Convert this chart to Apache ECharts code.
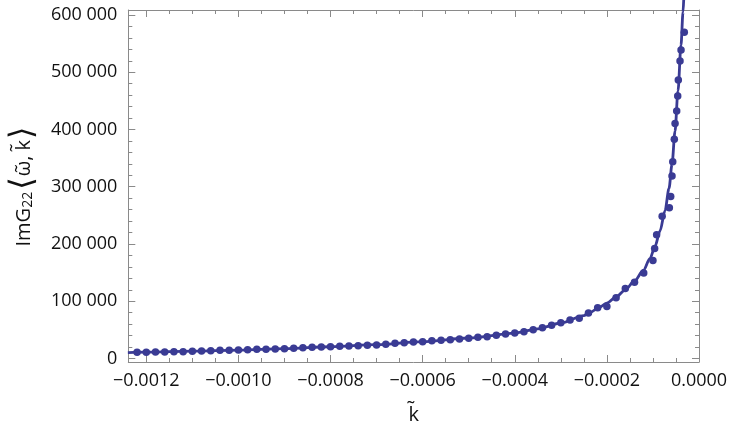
<!DOCTYPE html>
<html>
<head>
<meta charset="utf-8">
<script src="https://cdn.jsdelivr.net/npm/echarts@6.0.0/dist/echarts.min.js"></script>
<style>
  html, body { margin: 0; padding: 0; background: #ffffff; }
  #chart { width: 733px; height: 440px; }
</style>
</head>
<body>
<div id="chart"></div>
<script>
// ---- data ----
const kDots = [
  -0.00122, -0.00120, -0.00118, -0.00116, -0.00114, -0.00112, -0.00110, -0.00108, -0.00106, -0.00104,
  -0.00102, -0.00100, -0.00098, -0.00096, -0.00094, -0.00092, -0.00090, -0.00088, -0.00086, -0.00084,
  -0.00082, -0.00080, -0.00078, -0.00076, -0.00074, -0.00072, -0.00070, -0.00068, -0.00066, -0.00064,
  -0.00062, -0.00060, -0.00058, -0.00056, -0.00054, -0.00052, -0.00050, -0.00048, -0.00046, -0.00044,
  -0.00042, -0.00040, -0.00038, -0.00036, -0.00034, -0.00032, -0.00030, -0.00028, -0.00026, -0.00024,
  -0.00022, -0.00020, -0.00018, -0.00016, -0.00014, -0.00012, -0.00010,
  -0.0000963, -0.0000920, -0.0000800, -0.0000644, -0.0000614, -0.0000586, -0.0000570, -0.0000536,
  -0.0000520, -0.0000484, -0.0000462, -0.0000449, -0.0000412, -0.0000390, -0.0000319
];
const vDots = [
  10800, 10800, 11400, 11400, 11900, 11900, 12600, 13100, 13600, 14300,
  14300, 14900, 15400, 16100, 16100, 16600, 17100, 17800, 18900, 19600,
  20100, 20600, 21300, 21800, 22400, 23100, 23600, 24800, 26500, 27600,
  28800, 29300, 31100, 31800, 32800, 34100, 35300, 37000, 38100, 40500,
  42800, 44500, 46800, 50300, 53800, 58000, 62500, 67200, 70200, 79500,
  88600, 90700, 106000, 122300, 133300, 149300, 171200,
  192100, 216200, 248400, 263400, 283000, 318800, 343800, 382900,
  410500, 432300, 458500, 486500, 519700, 538900, 569800
];
const kLine = [
  -0.00124, -0.0012, -0.0011, -0.0010, -0.0009, -0.0008, -0.0007, -0.0006, -0.0005, -0.0004,
  -0.00035, -0.0003, -0.00025, -0.00024, -0.00022, -0.00020, -0.00018, -0.0001606, -0.00014,
  -0.0001209, -0.0001063, -0.0000955, -0.0000846, -0.0000738, -0.0000651, -0.0000586,
  -0.0000521, -0.0000456, -0.0000391, -0.0000347, -0.0000332
];
const vLine = [
  10300, 11000, 12800, 14800, 17200, 20500, 24200, 29500, 35800, 44500,
  51800, 62000, 75000, 78600, 87300, 96900, 107400, 119600, 135400,
  153700, 174800, 195800, 222900, 258300, 297100, 339000,
  396700, 467400, 547200, 604900, 626200
];
const xMajorTicks = [-0.0012, -0.0010, -0.0008, -0.0006, -0.0004, -0.0002, 0];
const xMinorTicks = [-0.00120, -0.00115, -0.00110, -0.00105, -0.00100, -0.00095, -0.00090, -0.00085, -0.00080, -0.00075,
  -0.00070, -0.00065, -0.00060, -0.00055, -0.00050, -0.00045, -0.00040, -0.00035, -0.00030, -0.00025,
  -0.00020, -0.00015, -0.00010, -0.00005, 0];
const yMajorTicks = [0, 100000, 200000, 300000, 400000, 500000, 600000];
const yMinorTicks = [0, 20000, 40000, 60000, 80000, 100000, 120000, 140000, 160000, 180000, 200000,
  220000, 240000, 260000, 280000, 300000, 320000, 340000, 360000, 380000, 400000,
  420000, 440000, 460000, 480000, 500000, 520000, 540000, 560000, 580000, 600000];

const X_MIN = -0.001239, X_MAX = 0;
const Y_MIN = -6100, Y_MAX = 608700;

const FONT = '"Open Sans", "Noto Sans", sans-serif';
const FRAME = '#8a8a8a';
const MARK = '#3a3b94';

const chart = echarts.init(document.getElementById('chart'), null, { renderer: 'canvas' });

function xFmt(v) {
  if (Math.abs(v) < 1e-12) return '0.0000';
  return '\u2212' + Math.abs(v).toFixed(4);
}
function yFmt(v) {
  return String(Math.round(v)).replace(/\B(?=(\d{3})+(?!\d))/g, ' ');
}

function xAx(position, major, showLine, showLabel) {
  return {
    type: 'value', position: position, min: X_MIN, max: X_MAX,
    axisLine: { show: showLine, onZero: false, lineStyle: { color: FRAME, width: 1 } },
    axisTick: { show: true, inside: true, length: major ? 7 : 4,
      customValues: major ? xMajorTicks : xMinorTicks, lineStyle: { color: FRAME, width: 1 } },
    axisLabel: { show: showLabel, customValues: xMajorTicks, formatter: xFmt, margin: 10,
      fontSize: 18, fontFamily: FONT, color: '#111' },
    splitLine: { show: false }
  };
}
function yAx(position, major, showLine, showLabel) {
  return {
    type: 'value', position: position, min: Y_MIN, max: Y_MAX,
    axisLine: { show: showLine, onZero: false, lineStyle: { color: FRAME, width: 1 } },
    axisTick: { show: true, inside: true, length: major ? 7 : 4,
      customValues: major ? yMajorTicks : yMinorTicks, lineStyle: { color: FRAME, width: 1 } },
    axisLabel: { show: showLabel, customValues: yMajorTicks, formatter: yFmt, margin: 11,
      fontSize: 18, fontFamily: FONT, color: '#111' },
    splitLine: { show: false }
  };
}

const xAxes = [xAx('bottom', true, true, true), xAx('bottom', false, false, false),
               xAx('top', true, true, false), xAx('top', false, false, false)];
xAxes[0].name = 'k\u0303';
xAxes[0].nameLocation = 'middle';
xAxes[0].nameGap = 43;
xAxes[0].nameTextStyle = { fontSize: 20, fontFamily: FONT, color: '#111' };

const yAxes = [yAx('left', true, true, true), yAx('left', false, false, false),
               yAx('right', true, true, false), yAx('right', false, false, false)];
yAxes[0].name = '{a|ImG}{s|22}{b|\u27E8}{a|\u03C9\u0303, k\u0303}{b|\u27E9}';
yAxes[0].nameLocation = 'middle';
yAxes[0].nameRotate = 90;
yAxes[0].nameGap = 86;
yAxes[0].nameTextStyle = {
  color: '#111',
  rich: {
    a: { fontSize: 20, fontFamily: FONT, color: '#111' },
    s: { fontSize: 14, fontFamily: FONT, color: '#111', padding: [9, 1, 0, 0] },
    b: { fontSize: 32, fontFamily: '"DejaVu Sans", sans-serif', color: '#111', padding: [0, 1, 0, 1] }
  }
};

chart.setOption({
  animation: false,
  backgroundColor: '#ffffff',
  grid: { left: 128, right: 34, top: 10, bottom: 78, containLabel: false },
  xAxis: xAxes,
  yAxis: yAxes,
  series: [
    {
      type: 'line',
      xAxisIndex: 0, yAxisIndex: 0,
      data: kLine.map((k, i) => [k, vLine[i]]),
      smooth: 0.3,
      smoothMonotone: 'x',
      showSymbol: false,
      clip: false,
      lineStyle: { color: MARK, width: 2.8 },
      z: 2
    },
    {
      type: 'scatter',
      xAxisIndex: 0, yAxisIndex: 0,
      data: kDots.map((k, i) => [k, vDots[i]]),
      symbol: 'circle',
      symbolSize: 7.5,
      itemStyle: { color: MARK, opacity: 1 },
      z: 3
    }
  ]
});
</script>
</body>
</html>
